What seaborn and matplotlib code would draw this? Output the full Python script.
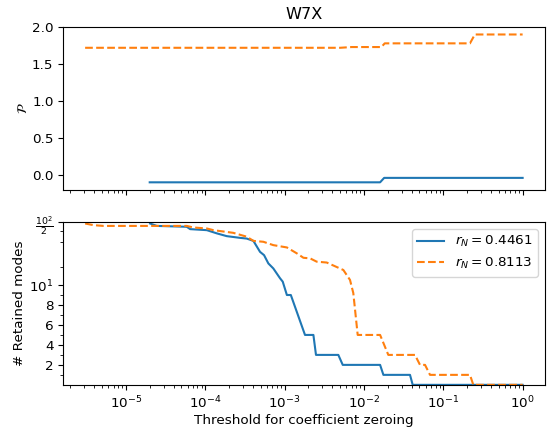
import numpy as np
import pandas as pd
import seaborn as sns
import matplotlib
matplotlib.use("Agg")
import matplotlib.pyplot as plt
from matplotlib.ticker import FixedLocator, NullFormatter

# ------------------------------------------------------------
# W7X: sparsity vs. threshold for coefficient zeroing
# ------------------------------------------------------------

plt.rcParams["font.size"] = 9.7

C_BLUE = "#1f77b4"
C_ORANGE = "#ff7f0e"

LABELS = [r"$r_N = 0.4461$", r"$r_N = 0.8113$"]

# top panel (P) -- blue series
top_x_a = [2.0e-5, 1.60e-2, 1.80e-2, 1.0]
top_y_a = [-0.10, -0.10, -0.04, -0.04]
# top panel (P) -- orange series
top_x_b = [3.07e-6, 5.0e-3, 7.0e-3, 1.66e-2, 1.83e-2, 2.17e-1, 2.50e-1, 1.0]
top_y_b = [1.72, 1.72, 1.73, 1.73, 1.78, 1.78, 1.90, 1.90]

# bottom panel (# retained modes) -- blue series
bot_x_a = [2.02e-5, 2.46e-5, 5.86e-5, 6.46e-5, 1.05e-4, 1.40e-4, 1.87e-4,
           2.75e-4, 3.34e-4, 4.05e-4, 4.91e-4, 5.52e-4, 6.25e-4, 7.22e-4,
           8.77e-4, 9.49e-4, 1.07e-3, 1.20e-3, 1.81e-3, 2.31e-3, 2.49e-3,
           4.76e-3, 5.41e-3, 1.60e-2, 1.76e-2, 3.81e-2, 4.12e-2, 1.0]
bot_y_a = [48.4, 45.5, 44.5, 41.9, 40.8, 37.6, 35.0,
           33.5, 32.9, 31.0, 23.4, 21.5, 17.4, 15.3,
           11.9, 10.9, 9.0, 9.0, 5.0, 5.0, 3.0,
           3.0, 2.0, 2.0, 1.0, 1.0, 0.0, 0.0]

# bottom panel (# retained modes) -- orange series
bot_x_b = [3.07e-6, 3.91e-6, 5.22e-6, 5.86e-5, 7.10e-5, 1.05e-4, 1.27e-4,
           2.26e-4, 3.34e-4, 4.05e-4, 5.41e-4, 7.22e-4, 1.07e-3, 1.43e-3,
           1.73e-3, 2.10e-3, 2.54e-3, 3.40e-3, 5.51e-3, 6.68e-3, 7.35e-3,
           8.35e-3, 1.60e-2, 2.03e-2, 4.40e-2, 5.09e-2, 5.89e-2, 6.81e-2,
           2.17e-1, 2.39e-1, 1.0]
bot_y_b = [48.4, 46.4, 45.5, 45.5, 43.7, 42.6, 40.8,
           38.1, 34.5, 31.0, 30.3, 27.8, 26.2, 22.5,
           20.1, 19.8, 18.2, 17.8, 14.7, 11.4, 9.2,
           5.0, 5.0, 3.0, 3.0, 2.0, 2.0, 1.0,
           1.0, 0.0, 0.0]


def main():
    top_a = pd.DataFrame({"x": top_x_a, "y": top_y_a})
    top_b = pd.DataFrame({"x": top_x_b, "y": top_y_b})
    bot_a = pd.DataFrame({"x": bot_x_a, "y": bot_y_a})
    bot_b = pd.DataFrame({"x": bot_x_b, "y": bot_y_b})

    fig, (ax1, ax2) = plt.subplots(2, 1, figsize=(5.5, 4.3), dpi=100, sharex=True)

    for ax in (ax1, ax2):
        ax.set_xscale("log")

    sns.lineplot(data=top_a, x="x", y="y", ax=ax1, color=C_BLUE,
                 estimator=None, sort=False, linewidth=1.5)
    sns.lineplot(data=top_b, x="x", y="y", ax=ax1, color=C_ORANGE,
                 estimator=None, sort=False, linewidth=1.5, linestyle="--")

    sns.lineplot(data=bot_a, x="x", y="y", ax=ax2, color=C_BLUE,
                 estimator=None, sort=False, linewidth=1.5, label=LABELS[0])
    sns.lineplot(data=bot_b, x="x", y="y", ax=ax2, color=C_ORANGE,
                 estimator=None, sort=False, linewidth=1.5, linestyle="--",
                 label=LABELS[1])

    ax1.set_title("W7X", fontsize=11.6)
    ax1.set_ylabel(r"$\mathcal{P}$")
    ax1.yaxis.set_label_coords(-0.07, 0.5)
    ax1.set_xlabel("")
    ax1.set_yticks([0.0, 0.5, 1.0, 1.5, 2.0])
    ax1.set_ylim(-0.2, 2.0)

    ax2.set_yscale("symlog", linthresh=10)
    ax2.set_ylim(0, 50)
    ax2.yaxis.set_major_locator(FixedLocator([2, 4, 6, 8, 10, 50]))
    ax2.set_yticklabels(["2", "4", "6", "8", r"$10^1$", r"$\frac{10^2}{2}$"])
    ax2.yaxis.set_minor_locator(FixedLocator([1, 3, 5, 7, 9, 16, 30, 40]))
    ax2.yaxis.set_minor_formatter(NullFormatter())

    ax2.set_xlabel("Threshold for coefficient zeroing", labelpad=2)
    ax2.set_ylabel("# Retained modes")
    ax2.yaxis.set_label_coords(-0.077, 0.5)
    ax2.legend(loc="upper right", fontsize=9.7)

    plt.subplots_adjust(left=0.115, right=0.99, top=0.937, bottom=0.105, hspace=0.2)
    plt.savefig("out.png", dpi=100)
    plt.close(fig)


if __name__ == "__main__":
    main()
